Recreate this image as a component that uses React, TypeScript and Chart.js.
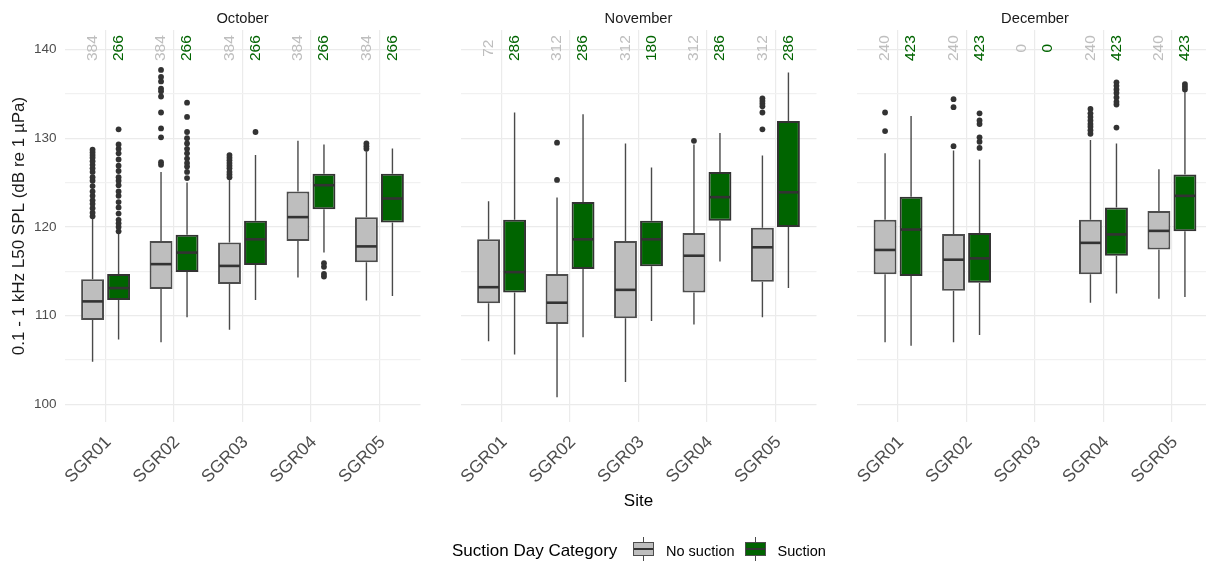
import React, { useEffect, useRef } from 'react';
import { Chart, registerables } from 'chart.js';

Chart.register(...registerables);

const FONT = "'Liberation Sans', Arial, Helvetica, sans-serif";

const sites = ['SGR01', 'SGR02', 'SGR03', 'SGR04', 'SGR05'];
const months = ['October', 'November', 'December'];
const yAxisTitle = '0.1 - 1 kHz L50 SPL (dB re 1 µPa)';
const xAxisTitle = 'Site';
const legendTitle = 'Suction Day Category';
const categoryNames = ['No suction', 'Suction'];

// Box statistics per site: [lower whisker, Q1, median, Q3, upper whisker]
const octNoSuction = [
  [104.8, 109.5, 111.6, 114.1, 120.9],
  [107.0, 113.0, 115.8, 118.4, 126.2],
  [108.4, 113.55, 115.6, 118.25, 125.3],
  [114.3, 118.4, 121.1, 124.0, 129.7],
  [111.7, 116.0, 117.8, 121.1, 128.5],
];
const octSuction = [
  [107.3, 111.75, 113.1, 114.7, 119.2],
  [109.8, 114.9, 117.1, 119.1, 125.0],
  [111.75, 115.7, 118.6, 120.7, 128.1],
  [117.1, 122.0, 124.7, 126.0, 129.3],
  [112.2, 120.5, 123.2, 126.0, 128.85],
];
const novNoSuction = [
  [107.1, 111.4, 113.2, 118.6, 122.9],
  [100.8, 109.05, 111.45, 114.7, 123.3],
  [102.5, 109.7, 112.9, 118.4, 129.4],
  [109.0, 112.6, 116.75, 119.3, 129.3],
  [109.8, 113.8, 117.7, 119.9, 128.05],
];
const novSuction = [
  [105.6, 112.6, 114.9, 120.8, 132.9],
  [107.55, 115.25, 118.6, 122.8, 132.7],
  [109.4, 115.55, 118.6, 120.7, 126.7],
  [116.1, 120.7, 123.35, 126.2, 130.6],
  [113.1, 120.0, 123.9, 131.95, 137.4],
];
const decNoSuction = [
  [107.0, 114.65, 117.4, 120.8, 128.3],
  [107.0, 112.8, 116.3, 119.2, 128.6],
  null,
  [111.45, 114.65, 118.2, 120.8, 129.8],
  [111.9, 117.45, 119.55, 121.8, 126.5],
];
const decSuction = [
  [106.6, 114.45, 119.7, 123.4, 132.5],
  [107.8, 113.7, 116.45, 119.3, 127.6],
  null,
  [112.5, 116.75, 119.15, 122.2, 129.4],
  [112.1, 119.5, 123.5, 125.9, 135.2],
];

// Outliers per site
const octNoSuctionOutliers = [
  [121.2, 121.6, 122.1, 122.6, 123.0, 123.5, 124.0, 124.6, 125.2, 125.6, 126.2, 126.6, 127.0, 127.4, 127.8, 128.1, 128.4, 128.7],
  [127.0, 127.3, 130.1, 131.1, 132.9, 134.7, 135.3, 135.6, 136.4, 136.9, 137.7],
  [125.6, 125.9, 126.2, 126.6, 126.9, 127.2, 127.5, 127.8, 128.1],
  [],
  [128.8, 129.1, 129.4],
];
const octSuctionOutliers = [
  [119.5, 120.0, 120.4, 120.8, 121.5, 122.2, 122.8, 123.5, 124.0, 124.7, 125.2, 125.6, 126.3, 126.9, 127.6, 128.3, 128.8, 129.3, 131.0],
  [125.5, 126.2, 126.8, 127.2, 127.7, 128.3, 128.8, 129.4, 130.0, 130.7, 132.4, 134.0],
  [130.7],
  [114.4, 114.7, 115.5, 115.9],
  [],
];
const novNoSuctionOutliers = [
  [],
  [125.3, 129.5],
  [],
  [129.7],
  [131.0, 132.9, 133.6, 133.9, 134.2, 134.5],
];
const novSuctionOutliers = [[], [], [], [], []];
const decNoSuctionOutliers = [
  [130.8, 132.9],
  [129.1, 133.5, 134.4],
  [],
  [130.5, 130.9, 131.3, 131.6, 132.0, 132.4, 132.8, 133.3],
  [],
];
const decSuctionOutliers = [
  [],
  [128.9, 129.6, 130.1, 131.6, 132.0, 132.8],
  [],
  [131.2, 133.8, 134.1, 134.6, 135.1, 135.5, 135.9, 136.3],
  [135.5, 135.8, 136.1],
];

// Sample counts per site
const octNoSuctionN = [384, 384, 384, 384, 384];
const octSuctionN = [266, 266, 266, 266, 266];
const novNoSuctionN = [72, 312, 312, 312, 312];
const novSuctionN = [286, 286, 180, 286, 286];
const decNoSuctionN = [240, 240, 0, 240, 240];
const decSuctionN = [423, 423, 0, 423, 423];

const Y_MIN = 98.0;
const Y_MAX = 142.2;
const COUNT_Y = 140.15;

const NO_FILL = '#bebebe';
const SU_FILL = '#006400';
const NO_TEXT = '#bebebe';
const SU_TEXT = '#006400';

const CANVAS_H = 563;
const PLOT_TOP = 30;
const PLOT_BOTTOM = 422;
const BOTTOM_PAD = 48;
const CAT_PCT = 0.76;
const BAR_PCT = 0.88;

type Stat = number[] | null;
type PanelCfg = {
  title: string;
  noStats: Stat[];
  suStats: Stat[];
  noOut: number[][];
  suOut: number[][];
  noN: number[];
  suN: number[];
  canvasLeft: number;
  canvasWidth: number;
  plotLeft: number;
  plotRight: number;
  first: boolean;
  middle: boolean;
};

const panels: PanelCfg[] = [
  {
    title: months[0], noStats: octNoSuction, suStats: octSuction, noOut: octNoSuctionOutliers, suOut: octSuctionOutliers,
    noN: octNoSuctionN, suN: octSuctionN, canvasLeft: 0, canvasWidth: 430, plotLeft: 64.5, plotRight: 420.5, first: true, middle: false,
  },
  {
    title: months[1], noStats: novNoSuction, suStats: novSuction, noOut: novNoSuctionOutliers, suOut: novSuctionOutliers,
    noN: novNoSuctionN, suN: novSuctionN, canvasLeft: 430, canvasWidth: 400, plotLeft: 460.5, plotRight: 816.5, first: false, middle: true,
  },
  {
    title: months[2], noStats: decNoSuction, suStats: decSuction, noOut: decNoSuctionOutliers, suOut: decSuctionOutliers,
    noN: decNoSuctionN, suN: decSuctionN, canvasLeft: 830, canvasWidth: 390, plotLeft: 857, plotRight: 1213, first: false, middle: false,
  },
];

function Panel({ cfg }: { cfg: PanelCfg }) {
  const ref = useRef<HTMLCanvasElement | null>(null);
  useEffect(() => {
    if (!ref.current) return;
    const toBars = (stats: Stat[]) =>
      stats.map((s, i) => (s ? { x: i + 1, y: [s[1], s[3]] } : null)).filter((d) => d !== null);

    const extras = {
      id: 'boxExtras',
      afterDatasetsDraw(chart: any) {
        const ctx = chart.ctx;
        const ys = chart.scales.y;
        const groups = [
          { stats: cfg.noStats, out: cfg.noOut },
          { stats: cfg.suStats, out: cfg.suOut },
        ];
        groups.forEach((g, di) => {
          const meta = chart.getDatasetMeta(di);
          meta.data.forEach((el: any, j: number) => {
            const raw = chart.data.datasets[di].data[j];
            const idx = raw.x - 1;
            const s = g.stats[idx];
            if (!s) return;
            const x = el.x;
            const half = el.width / 2;
            ctx.save();
            ctx.strokeStyle = '#4a4a4a';
            ctx.lineWidth = 1.4;
            ctx.beginPath();
            ctx.moveTo(x, ys.getPixelForValue(s[3]));
            ctx.lineTo(x, ys.getPixelForValue(s[4]));
            ctx.moveTo(x, ys.getPixelForValue(s[1]));
            ctx.lineTo(x, ys.getPixelForValue(s[0]));
            ctx.stroke();
            const my = ys.getPixelForValue(s[2]);
            ctx.strokeStyle = '#333333';
            ctx.lineWidth = 2.6;
            ctx.beginPath();
            ctx.moveTo(x - half + 1, my);
            ctx.lineTo(x + half - 1, my);
            ctx.stroke();
            ctx.fillStyle = '#333333';
            g.out[idx].forEach((v) => {
              ctx.beginPath();
              ctx.arc(x, ys.getPixelForValue(v), 2.9, 0, Math.PI * 2);
              ctx.fill();
            });
            ctx.restore();
          });
        });
      },
      afterDraw(chart: any) {
        const ctx = chart.ctx;
        const xs = chart.scales.x;
        const ys = chart.scales.y;
        const area = chart.chartArea;
        ctx.save();
        ctx.font = `14.7px ${FONT}`;
        ctx.fillStyle = '#1a1a1a';
        ctx.textAlign = 'center';
        ctx.textBaseline = 'middle';
        ctx.fillText(cfg.title, (area.left + area.right) / 2, 18.5);
        const spacing = xs.getPixelForValue(2) - xs.getPixelForValue(1);
        const slot = (spacing * CAT_PCT) / 2;
        const cy = ys.getPixelForValue(COUNT_Y);
        ctx.font = `15.5px ${FONT}`;
        sites.forEach((_, i) => {
          const px = xs.getPixelForValue(i + 1);
          const items: [number, number, string][] = [
            [cfg.noN[i], -slot / 2, NO_TEXT],
            [cfg.suN[i], slot / 2, SU_TEXT],
          ];
          items.forEach(([n, off, col]) => {
            ctx.save();
            ctx.translate(px + off, cy);
            ctx.rotate(-Math.PI / 2);
            ctx.fillStyle = col;
            ctx.fillText(String(n), 0, 0);
            ctx.restore();
          });
        });
        ctx.restore();
      },
    };

    const chart = new Chart(ref.current, {
      type: 'bar',
      data: {
        datasets: [
          {
            label: categoryNames[0],
            data: toBars(cfg.noStats) as any,
            backgroundColor: NO_FILL,
            borderColor: '#4d4d4d',
            borderWidth: 2,
            borderSkipped: false,
            categoryPercentage: CAT_PCT,
            barPercentage: BAR_PCT,
          },
          {
            label: categoryNames[1],
            data: toBars(cfg.suStats) as any,
            backgroundColor: SU_FILL,
            borderColor: '#333333',
            borderWidth: 2,
            borderSkipped: false,
            categoryPercentage: CAT_PCT,
            barPercentage: BAR_PCT,
          },
        ],
      },
      options: {
        responsive: false,
        animation: false,
        devicePixelRatio: 1,
        layout: {
          padding: {
            left: 0,
            top: PLOT_TOP,
            right: cfg.canvasWidth - (cfg.plotRight - cfg.canvasLeft),
            bottom: BOTTOM_PAD,
          },
        },
        plugins: {
          legend: { display: false },
          tooltip: { enabled: false },
          title: { display: false },
        },
        scales: {
          x: {
            type: 'linear',
            min: 0.4,
            max: 5.6,
            offset: false,
            grid: { color: '#ebebeb', lineWidth: 1.2, drawTicks: false, offset: false },
            border: { display: false },
            ticks: {
              stepSize: 1,
              includeBounds: false,
              autoSkip: false,
              maxRotation: 45,
              minRotation: 45,
              padding: 10,
              labelOffset: 3,
              color: '#4d4d4d',
              font: { family: FONT, size: 17.5 },
              callback: (v: any) => sites[Number(v) - 1] ?? '',
            },
            title: {
              display: cfg.middle,
              text: xAxisTitle,
              color: '#000000',
              font: { family: FONT, size: 17 },
              padding: { top: 0, bottom: 3 },
            },
            afterFit: (s: any) => {
              s.height = CANVAS_H - BOTTOM_PAD - PLOT_BOTTOM;
            },
          } as any,
          y: {
            type: 'linear',
            min: Y_MIN,
            max: Y_MAX,
            beginAtZero: false,
            grid: {
              color: (c: any) => (c.tick && c.tick.value % 10 === 0 ? '#ebebeb' : '#f1f1f1'),
              lineWidth: 1.2,
              drawTicks: false,
            },
            border: { display: false },
            ticks: {
              display: cfg.first,
              stepSize: 5,
              includeBounds: false,
              padding: 8,
              color: '#4d4d4d',
              font: { family: FONT, size: 13.5 },
              callback: (v: any) => (Number(v) % 10 === 0 ? String(v) : ''),
            },
            title: {
              display: cfg.first,
              text: yAxisTitle,
              color: '#1a1a1a',
              font: { family: FONT, size: 17 },
              padding: { top: 9, bottom: 0 },
            },
            afterFit: (s: any) => {
              s.width = cfg.plotLeft - cfg.canvasLeft;
            },
          } as any,
        },
      },
      plugins: [extras],
    });
    return () => chart.destroy();
  }, [cfg]);

  return (
    <canvas
      ref={ref}
      width={cfg.canvasWidth}
      height={CANVAS_H}
      style={{ position: 'absolute', left: cfg.canvasLeft, top: 0, width: cfg.canvasWidth, height: CANVAS_H }}
    />
  );
}

function LegendKey({ left, fill }: { left: number; fill: string }) {
  return (
    <div style={{ position: 'absolute', left, top: 537, width: 21, height: 24 }}>
      <div style={{ position: 'absolute', left: 10, top: 0, width: 1.3, height: 24, background: '#4a4a4a' }} />
      <div
        style={{
          position: 'absolute', left: 0, top: 5, width: 21, height: 14, background: fill,
          border: '1.6px solid #4d4d4d', boxSizing: 'border-box',
        }}
      />
      <div style={{ position: 'absolute', left: 1, top: 11, width: 19, height: 2, background: '#333' }} />
    </div>
  );
}

function Legend() {
  const text = (left: number, size: number, s: string) => (
    <div
      style={{
        position: 'absolute', left, top: 541, height: 20, lineHeight: '20px', fontSize: size,
        fontFamily: FONT, color: '#000', whiteSpace: 'nowrap',
      }}
    >
      {s}
    </div>
  );
  return (
    <>
      {text(452, 17, legendTitle)}
      <LegendKey left={633} fill={NO_FILL} />
      {text(666, 14.5, categoryNames[0])}
      <LegendKey left={745} fill={SU_FILL} />
      {text(777.5, 14.5, categoryNames[1])}
    </>
  );
}

export default function App() {
  return (
    <div
      style={{
        position: 'fixed', left: 0, top: 0, width: 1206, height: 563, overflow: 'hidden', background: '#ffffff',
      }}
    >
      {panels.map((p) => (
        <Panel key={p.title} cfg={p} />
      ))}
      <Legend />
    </div>
  );
}
